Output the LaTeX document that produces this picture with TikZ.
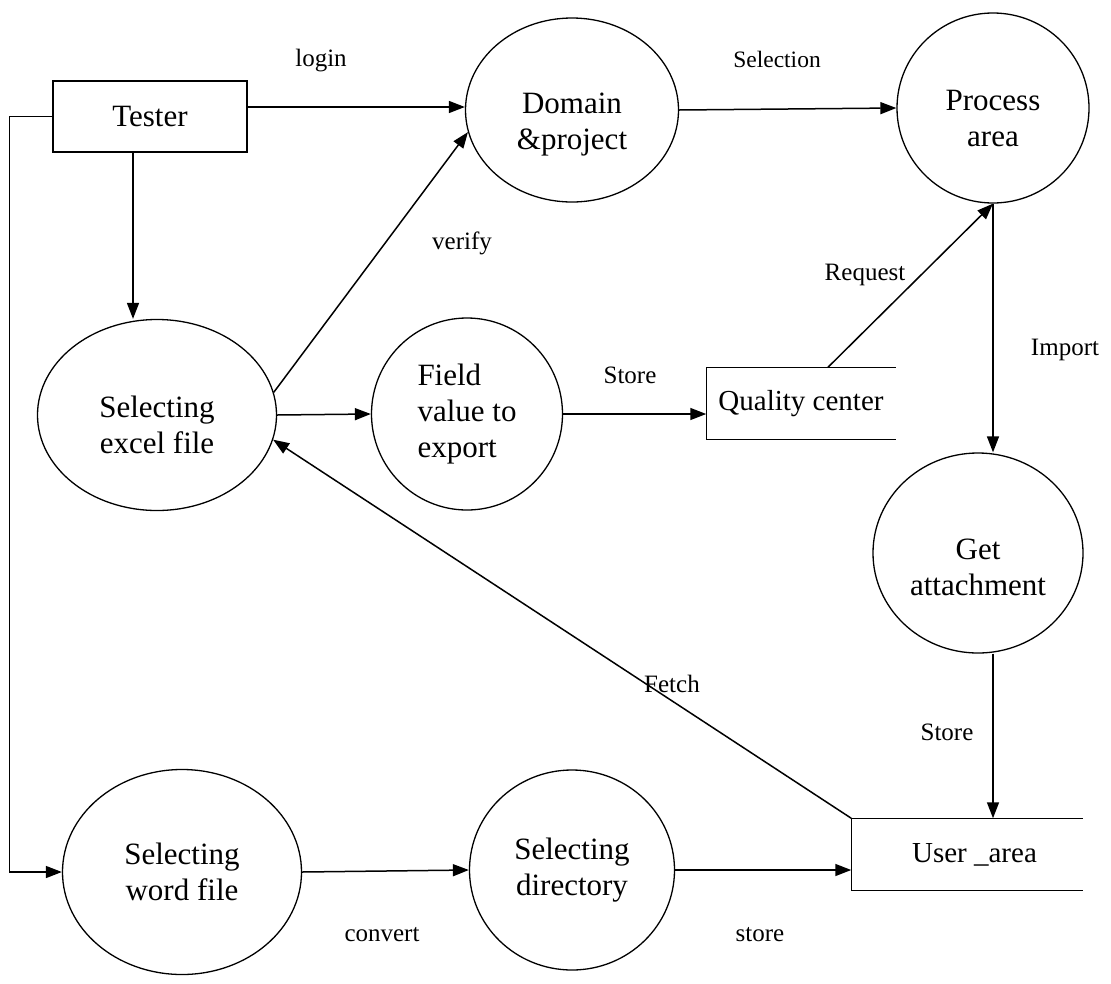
\documentclass[tikz,border=0pt]{standalone}
\usepackage{fontspec}
\setmainfont{Liberation Serif}
\usetikzlibrary{
    arrows.meta,
    shapes.geometric
}
\newcommand{\dropped}[2]{\raisebox{-#1}[\height][\depth]{\begin{tabular}{@{}c@{}}#2\end{tabular}}}

\begin{document}
\begin{tikzpicture}[x=1pt,y=-1pt,line width=1.5pt,
    >={Triangle[length=16pt,width=12pt]},
    proc/.style={draw,ellipse,line width=1.3pt,inner sep=0pt,align=center,
        font=\fontsize{31}{36}\selectfont},
    datastore/.style={rectangle,inner sep=0pt,
        font=\fontsize{29}{34}\selectfont},
    lbl/.style={inner sep=0pt,font=\fontsize{25}{30}\selectfont}]

\useasboundingbox (0,0) rectangle (1111,983);

% Tester
\node[draw,rectangle,line width=1.3pt,minimum width=194pt,minimum height=71pt,
      font=\fontsize{31}{36}\selectfont] (tester) at (150,116.5) {Tester};

% Processes
\node[proc,minimum width=213pt,minimum height=184pt] (domain) at (572,110) {\dropped{14pt}{Domain\\\&project}};
\node[proc,minimum width=192pt,minimum height=190pt] (process) at (993,108) {\dropped{13pt}{Process\\area}};
\node[proc,minimum width=239pt,minimum height=191pt] (excel) at (157,415) {\dropped{13pt}{Selecting\\excel file}};
\node[proc,minimum width=191pt,minimum height=192pt,align=left] (field) at (467,414) {Field\\value to\\export};
\node[proc,minimum width=210pt,minimum height=200pt] (attach) at (978,553) {\dropped{17pt}{Get\\attachment}};
\node[proc,minimum width=239pt,minimum height=205pt] (word) at (182,872) {Selecting\\word file};
\node[proc,minimum width=205pt,minimum height=200pt] (dir) at (572,870) {Selecting\\directory};

% Data stores
\node[datastore,minimum width=188pt,minimum height=71pt] (quality) at (801,403.5) {Quality center};
\draw[line width=1.3pt] (quality.north east) -- (quality.north west)
    -- (quality.south west) -- (quality.south east);
\node[datastore,minimum width=230pt,minimum height=71pt] (user) at (967,854.5) {\hspace*{15pt}User \_area};
\draw[line width=1.3pt] (user.north east) -- (user.north west)
    -- (user.south west) -- (user.south east);

% Flows
\draw[->] ([yshift=9.5pt]tester.east) -- ([yshift=9.5pt]tester.east -| domain.west);
\draw[->] (domain.east) -- (process.west);
\draw[->] ([xshift=-17pt]tester.south) -- ([xshift=-17pt]tester.south |- excel.north);
\draw[->] (tester.west) -- ++(-43,0) |- (word.west);
\draw[->] (excel.11) -- (domain.192);
\draw[->] (excel.east) -- (field.west);
\draw[->] (field.east) -- (field.east -| quality.west);
\draw[->] ([xshift=27pt]quality.north) -- (process.south);
\draw[->] (process.south) -- (process.south |- attach.north);
\draw[->] (process.south |- attach.south) -- (process.south |- user.north);
\draw[->] (user.north west) -- (excel.348);
\draw[->] (word.east) -- (dir.west);
\draw[->] (dir.east) -- (dir.east -| user.west);

% Labels
\node[lbl] (login) at (321,61) {login};
\node[lbl,font=\fontsize{23.5}{28}\selectfont] (selection) at (777,59) {Selection};
\node[lbl] (verify) at (462,243) {verify};
\node[lbl] (request) at (865,275) {Request};
\node[lbl] (storeqc) at (630,375) {Store};
\node[lbl] (import) at (1065,350) {Import};
\node[lbl] (fetch) at (672,684) {Fetch};
\node[lbl] (storeua) at (947,732) {Store};
\node[lbl] (convert) at (382,935) {convert};
\node[lbl] (storedir) at (760,935) {store};

\end{tikzpicture}
\end{document}
